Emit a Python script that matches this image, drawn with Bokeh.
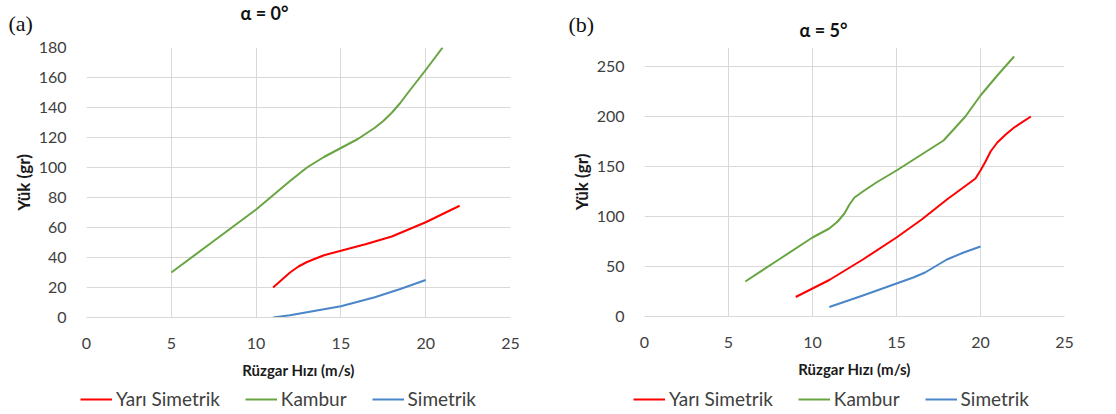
from bokeh.plotting import figure
from bokeh.layouts import row, column
from bokeh.models import Legend, LegendItem, Label, FixedTicker, Range1d
from bokeh.embed import file_html
from bokeh.resources import INLINE

# ---- data: panel (a) alpha = 0 deg ----
a_yari_x = [11, 11.5, 12, 12.5, 13, 14, 15, 16.5, 18, 20, 21, 22]
a_yari_y = [20, 25, 30, 34, 37, 41.5, 44.5, 49, 54, 63.5, 69, 74.5]
a_kambur_x = [5, 7.5, 10, 12, 13, 14, 15, 16, 17, 17.5, 18, 18.5, 19, 20, 21]
a_kambur_y = [30, 51, 72, 91, 100, 107, 113, 119, 126.5, 131, 136.5, 143, 150.5, 165, 180]
a_sim_x = [11, 12, 13, 15, 17, 18.5, 20]
a_sim_y = [0, 1.5, 3.5, 7.5, 13.5, 19, 25]

# ---- data: panel (b) alpha = 5 deg ----
b_yari_x = [9, 11, 13, 15, 16.5, 18, 19.3, 19.7, 20, 20.3, 20.6, 21, 21.5, 22, 23]
b_yari_y = [19.5, 36.5, 57, 79, 97, 117, 133, 138, 146, 155, 165, 174, 182, 189, 200]
b_kambur_x = [6, 8, 10, 11, 11.5, 11.9, 12.2, 12.5, 13, 13.8, 15, 16.4, 17.8, 19.1, 20, 21, 22]
b_kambur_y = [35, 57, 79, 88, 95, 103, 112, 119, 125, 134, 146, 161, 176, 200, 221, 241, 260]
b_sim_x = [11, 13, 15, 16, 16.7, 17.4, 18, 19, 20]
b_sim_y = [9.5, 21, 33, 39, 44, 51, 57, 64, 70]

series_names = ["Yarı Simetrik", "Kambur", "Simetrik"]
colors = ["#ff0000", "#68a542", "#4a86c8"]
x_ticks = [0, 5, 10, 15, 20, 25]
a_y_ticks = [0, 20, 40, 60, 80, 100, 120, 140, 160, 180]
b_y_ticks = [0, 50, 100, 150, 200, 250]

FONT = "Lato"


def make_panel(series, y_end, y_ticks, title, tag, frame_w, frame_h,
               bl, bt, br, bb, title_off, title_standoff, tag_pos):
    p = figure(frame_width=frame_w, frame_height=frame_h,
               output_backend="svg", toolbar_location=None,
               x_range=Range1d(0, 25), y_range=Range1d(0, y_end),
               min_border_left=bl, min_border_top=bt, min_border_right=br,
               min_border_bottom=bb)
    p.outline_line_color = None
    p.background_fill_color = "white"
    p.border_fill_color = "white"

    p.xaxis.ticker = FixedTicker(ticks=x_ticks)
    p.yaxis.ticker = FixedTicker(ticks=y_ticks)
    p.xgrid.ticker = FixedTicker(ticks=x_ticks)
    p.ygrid.ticker = FixedTicker(ticks=y_ticks)
    for g in (p.xgrid, p.ygrid):
        g.grid_line_color = "#d9d9d9"
        g.grid_line_width = 1

    for ax in (p.xaxis, p.yaxis):
        ax.major_tick_line_color = None
        ax.minor_tick_line_color = None
        ax.major_label_text_font = FONT
        ax.major_label_text_font_size = "16px"
        ax.major_label_text_color = "#404040"
        ax.axis_label_text_font = FONT
        ax.axis_label_text_font_style = "bold"
        ax.axis_label_text_color = "#1a1a1a"
        ax.major_label_standoff = 14
    p.xaxis.axis_label_text_font_size = "15px"
    p.yaxis.axis_label_text_font_size = "17px"
    p.xaxis.axis_label_standoff = 9
    p.yaxis.axis_label_standoff = 2
    p.xaxis.axis_line_color = "#d9d9d9"
    p.yaxis.axis_line_color = None
    p.xaxis.axis_label = "Rüzgar Hızı (m/s)"
    p.yaxis.axis_label = "Yük (gr)"

    for (xs, ys), c in zip(series, colors):
        p.line(xs, ys, line_color=c, line_width=2, line_join="round")

    p.title.text = title
    p.title.align = "left"
    p.title.offset = title_off
    p.title.text_font = FONT
    p.title.text_font_size = "18px"
    p.title.text_font_style = "bold"
    p.title.text_color = "#111111"
    p.title.standoff = title_standoff

    p.add_layout(Label(x=tag_pos[0], y=tag_pos[1], x_units="screen", y_units="screen",
                       text=tag, text_font="Liberation Serif", text_font_size="22px",
                       text_color="#111111", text_align="left", text_baseline="middle"),
                 "above")
    return p


def make_legend(series, leg_pos):
    lf = figure(width=558, height=29, min_border=0, x_axis_type=None, y_axis_type=None,
                output_backend="svg", toolbar_location=None,
                x_range=Range1d(-10, -9), y_range=Range1d(-10, -9))
    lf.outline_line_color = None
    lf.background_fill_color = "white"
    lf.border_fill_color = "white"
    items = []
    for (xs, ys), name, c in zip(series, series_names, colors):
        r = lf.line(xs, ys, line_color=c, line_width=2)
        items.append(LegendItem(label=name, renderers=[r]))
    leg = Legend(items=items, orientation="horizontal", location=leg_pos,
                 label_text_font=FONT, label_text_font_size="19px",
                 label_text_color="#404040", glyph_width=32, glyph_height=20,
                 label_standoff=4, spacing=25, padding=0, margin=0,
                 border_line_color=None, background_fill_alpha=0)
    lf.add_layout(leg, "center")
    return lf


a_series = [(a_yari_x, a_yari_y), (a_kambur_x, a_kambur_y), (a_sim_x, a_sim_y)]
b_series = [(b_yari_x, b_yari_y), (b_kambur_x, b_kambur_y), (b_sim_x, b_sim_y)]

pa = make_panel(a_series, 180, a_y_ticks, "α = 0°", "(a)", 424, 270,
                86, 45, 48, 68, 154, -2, (-78, 24))
pb = make_panel(b_series, 269, b_y_ticks, "α = 5°", "(b)", 420, 269,
                86, 45, 52, 69, 155, -36, (-76, 23))
la = make_legend(a_series, (80, 4))
lb = make_legend(b_series, (75, 4))

layout = column(row(pa, pb, spacing=0), row(la, lb, spacing=0), spacing=0)
open("out.html", "w").write(file_html(layout, INLINE))
